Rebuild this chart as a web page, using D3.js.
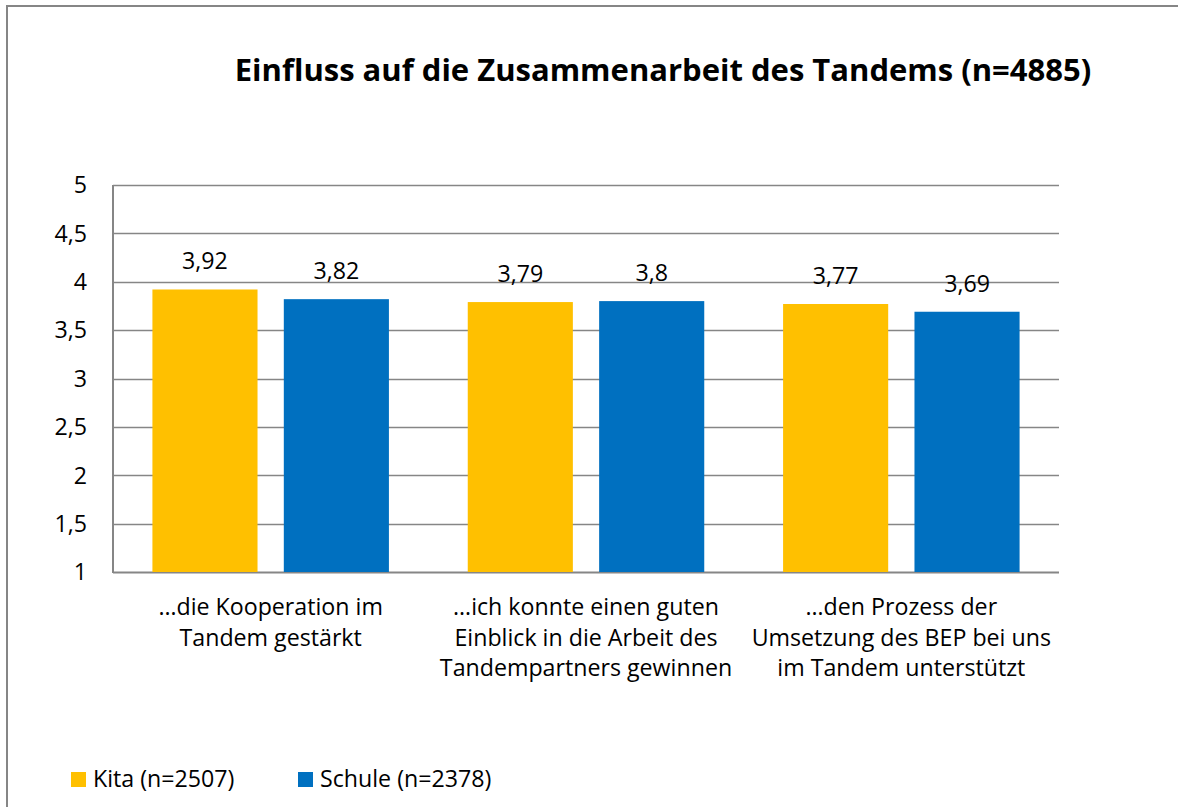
<!DOCTYPE html>
<html>
<head>
  <meta charset="utf-8">
  <title>Einfluss auf die Zusammenarbeit des Tandems</title>
  <script src="https://cdn.jsdelivr.net/npm/d3@7"></script>
  <style>
    body { margin: 0; background: #fff; }
    svg { display: block; font-family: "Open Sans", sans-serif; }
  </style>
</head>
<body>
  <svg id="chart"></svg>

  <script>
    // data
    const categories = [
      ["…die Kooperation im", "Tandem gestärkt"],
      ["…ich konnte einen guten", "Einblick in die Arbeit des", "Tandempartners gewinnen"],
      ["…den Prozess der", "Umsetzung des BEP bei uns", "im Tandem unterstützt"]
    ];
    const series = ["Kita (n=2507)", "Schule (n=2378)"];
    const kita = [3.92, 3.79, 3.77];
    const schule = [3.82, 3.8, 3.69];
    const yTicks = [1, 1.5, 2, 2.5, 3, 3.5, 4, 4.5, 5];
    const colors = ["#FFC000", "#0070C0"];

    const width = 1178;
    const height = 807;
    const margin = { top: 185, right: 119, bottom: 235, left: 113 };
    const fontSize = 23.2;

    const svg = d3.select("#chart")
      .attr("width", width)
      .attr("height", height);

    // outer frame (right/bottom edges fall outside the picture)
    svg.append("rect")
      .attr("x", 7).attr("y", 6)
      .attr("width", width + 10).attr("height", height + 10)
      .attr("fill", "none")
      .attr("stroke", "#868686")
      .attr("stroke-width", 2);

    const x = d3.scaleBand()
      .domain(d3.range(categories.length))
      .range([margin.left, width - margin.right]);

    const xs = d3.scaleBand()
      .domain(d3.range(series.length))
      .range([0, x.bandwidth()])
      .paddingInner(0.2)
      .paddingOuter(0.3);

    const y = d3.scaleLinear()
      .domain([1, 5])
      .range([height - margin.bottom, margin.top]);

    const fmt = v => String(v).replace(".", ",");

    // title
    svg.append("text")
      .attr("x", 663)
      .attr("y", 81)
      .attr("text-anchor", "middle")
      .attr("font-weight", "bold")
      .attr("font-size", 31)
      .attr("fill", "#000")
      .text("Einfluss auf die Zusammenarbeit des Tandems (n=4885)");

    // gridlines
    svg.append("g")
      .selectAll("line")
      .data(yTicks)
      .join("line")
      .attr("x1", margin.left)
      .attr("x2", width - margin.right)
      .attr("y1", d => Math.round(y(d)) + 0.5)
      .attr("y2", d => Math.round(y(d)) + 0.5)
      .attr("stroke", "#868686")
      .attr("stroke-width", d => d === 1 ? 2 : 1.3);

    // y axis line
    svg.append("line")
      .attr("x1", margin.left).attr("x2", margin.left)
      .attr("y1", y(5)).attr("y2", y(1) + 1)
      .attr("stroke", "#868686")
      .attr("stroke-width", 2);

    // y tick labels
    svg.append("g")
      .attr("font-size", fontSize)
      .attr("text-anchor", "end")
      .selectAll("text")
      .data(yTicks)
      .join("text")
      .attr("x", margin.left - 26)
      .attr("y", d => y(d))
      .attr("dy", "0.36em")
      .text(fmt);

    // bars
    const values = [kita, schule];
    const bars = series.map((s, si) => categories.map((c, ci) => ({ si, ci, v: values[si][ci] }))).flat();

    svg.append("g")
      .selectAll("rect")
      .data(bars)
      .join("rect")
      .attr("x", d => x(d.ci) + xs(d.si))
      .attr("width", xs.bandwidth())
      .attr("y", d => y(d.v))
      .attr("height", d => y(1) - y(d.v))
      .attr("fill", d => colors[d.si]);

    // value labels
    svg.append("g")
      .attr("font-size", fontSize)
      .attr("text-anchor", "middle")
      .selectAll("text")
      .data(bars)
      .join("text")
      .attr("x", d => x(d.ci) + xs(d.si) + xs.bandwidth() / 2)
      .attr("y", d => y(d.v) - 20)
      .text(d => fmt(d.v));

    // category labels
    const cat = svg.append("g")
      .attr("font-size", fontSize)
      .attr("text-anchor", "middle")
      .selectAll("text")
      .data(categories)
      .join("text")
      .attr("x", (d, i) => x(i) + x.bandwidth() / 2)
      .attr("y", 615);

    cat.selectAll("tspan")
      .data(d => d)
      .join("tspan")
      .attr("x", function () { return this.parentNode.getAttribute("x"); })
      .attr("dy", (d, i) => i === 0 ? 0 : 30.5)
      .text(d => d);

    // legend
    const legendX = [71, 298];
    const legend = svg.append("g")
      .selectAll("g")
      .data(series)
      .join("g")
      .attr("transform", (d, i) => `translate(${legendX[i]},772)`);

    legend.append("rect")
      .attr("width", 15).attr("height", 15)
      .attr("fill", (d, i) => colors[i]);

    legend.append("text")
      .attr("x", 22)
      .attr("y", 15)
      .attr("font-size", fontSize)
      .text(d => d);
  </script>
</body>
</html>
